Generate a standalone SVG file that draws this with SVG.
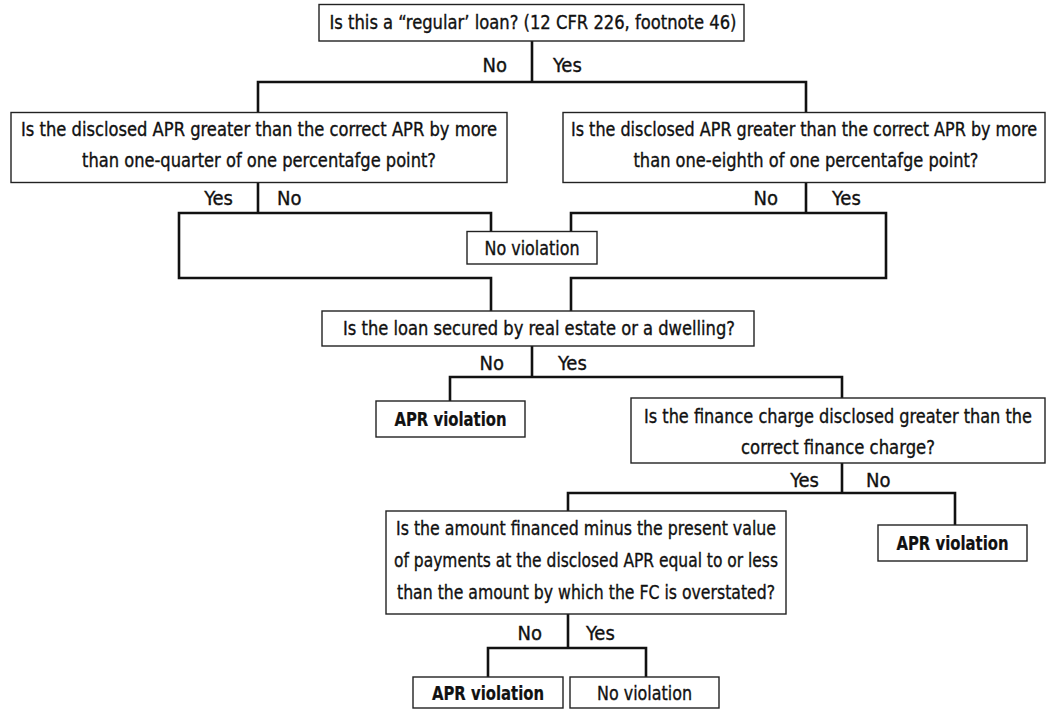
<svg xmlns="http://www.w3.org/2000/svg" width="1048" height="709" viewBox="0 0 1048 709">
  <style>
    .box { fill: #fff; stroke: #222; stroke-width: 1.4; }
    .wire { fill: none; stroke: #111; stroke-width: 2.6; stroke-linejoin: miter; stroke-linecap: square; }
    text { font-family: "Liberation Sans Narrow", "Arial Narrow", "DejaVu Sans Condensed", "Liberation Sans", sans-serif; font-stretch: condensed; font-size: 20px; fill: #111; stroke: #111; stroke-width: 0.35; }
    .c { text-anchor: middle; }
    .e { text-anchor: end; }
    .b { font-weight: bold; stroke-width: 0.2; }
    /* long lines near the right margin: smaller size, stretched back to full height */
    .tall { font-size: 17px; stroke-width: 0.3; }
  </style>
  <rect width="1048" height="709" fill="#fff"/>

  <!-- connectors -->
  <g id="connectors">
    <path class="wire" d="M532,41 V82 M258,113 V82 H806 V113"/>
    <path class="wire" d="M258,182 V213 M179,213 H491 V232 M179,213 V278 H491 V311"/>
    <path class="wire" d="M806,182 V213 M571,232 V213 H886 V278 H571 V311"/>
    <path class="wire" d="M532,346 V377 M450,401 V377 H842 V398"/>
    <path class="wire" d="M842,463 V493 M568,511 V493 H955 V525"/>
    <path class="wire" d="M568,614 V648 M488,677 V648 H646 V677"/>
  </g>

  <!-- branch labels -->
  <g id="labels">
    <text class="e" x="507" y="72">No</text><text x="553" y="72">Yes</text>
    <text class="e" x="233" y="205">Yes</text><text x="277" y="205">No</text>
    <text class="e" x="778" y="205">No</text><text x="832" y="205">Yes</text>
    <text class="e" x="504" y="370">No</text><text x="558" y="370">Yes</text>
    <text class="e" x="819" y="487">Yes</text><text x="866" y="487">No</text>
    <text class="e" x="542" y="640">No</text><text x="586" y="640">Yes</text>
  </g>

  <g id="q-regular">
    <rect class="box" x="319" y="4.5" width="425" height="36.5"/>
    <text class="c" x="533" y="29" textLength="407" lengthAdjust="spacingAndGlyphs">Is this a “regular’ loan? (12 CFR 226, footnote 46)</text>
  </g>

  <g id="q-quarter">
    <rect class="box" x="11" y="112.5" width="496" height="70"/>
    <text class="c" x="259" y="136" textLength="476" lengthAdjust="spacingAndGlyphs">Is the disclosed APR greater than the correct APR by more</text>
    <text class="c" x="259" y="167" textLength="354" lengthAdjust="spacingAndGlyphs">than one-quarter of one percentafge point?</text>
  </g>

  <g id="q-eighth">
    <rect class="box" x="563" y="112.5" width="482" height="70"/>
    <text class="c tall" x="804" y="136" textLength="466" lengthAdjust="spacingAndGlyphs" transform="matrix(1,0,0,1.1765,0,-24)">Is the disclosed APR greater than the correct APR by more</text>
    <text class="c" x="806" y="167" textLength="345" lengthAdjust="spacingAndGlyphs">than one-eighth of one percentafge point?</text>
  </g>

  <g id="no-violation-1">
    <rect class="box" x="467" y="231.5" width="130" height="32.5"/>
    <text class="c" x="532" y="255" textLength="95" lengthAdjust="spacingAndGlyphs">No violation</text>
  </g>

  <g id="q-secured">
    <rect class="box" x="322" y="311" width="432" height="35"/>
    <text class="c" x="539" y="335" textLength="392" lengthAdjust="spacingAndGlyphs">Is the loan secured by real estate or a dwelling?</text>
  </g>

  <g id="apr-violation-1">
    <rect class="box" x="376" y="401" width="149" height="36"/>
    <text class="c b" x="450.5" y="426" textLength="112" lengthAdjust="spacingAndGlyphs">APR violation</text>
  </g>

  <g id="q-finance-charge">
    <rect class="box" x="631" y="398" width="414" height="65"/>
    <text class="c tall" x="838" y="423" textLength="388" lengthAdjust="spacingAndGlyphs" transform="matrix(1,0,0,1.1765,0,-74.65)">Is the finance charge disclosed greater than the</text>
    <text class="c" x="838" y="454" textLength="194" lengthAdjust="spacingAndGlyphs">correct finance charge?</text>
  </g>

  <g id="apr-violation-2">
    <rect class="box" x="878" y="525" width="149" height="36"/>
    <text class="c b" x="952.5" y="550" textLength="112" lengthAdjust="spacingAndGlyphs">APR violation</text>
  </g>

  <g id="q-present-value">
    <rect class="box" x="386" y="511" width="400" height="103"/>
    <text class="c" x="586" y="535" textLength="380" lengthAdjust="spacingAndGlyphs">Is the amount financed minus the present value</text>
    <text class="c" x="586" y="567" textLength="384" lengthAdjust="spacingAndGlyphs">of payments at the disclosed APR equal to or less</text>
    <text class="c" x="586" y="599" textLength="378" lengthAdjust="spacingAndGlyphs">than the amount by which the FC is overstated?</text>
  </g>

  <g id="apr-violation-3">
    <rect class="box" x="413" y="677" width="150" height="31"/>
    <text class="c b" x="488" y="700" textLength="112" lengthAdjust="spacingAndGlyphs">APR violation</text>
  </g>

  <g id="no-violation-2">
    <rect class="box" x="570" y="677" width="149" height="31"/>
    <text class="c" x="644.5" y="700" textLength="95" lengthAdjust="spacingAndGlyphs">No violation</text>
  </g>
</svg>
